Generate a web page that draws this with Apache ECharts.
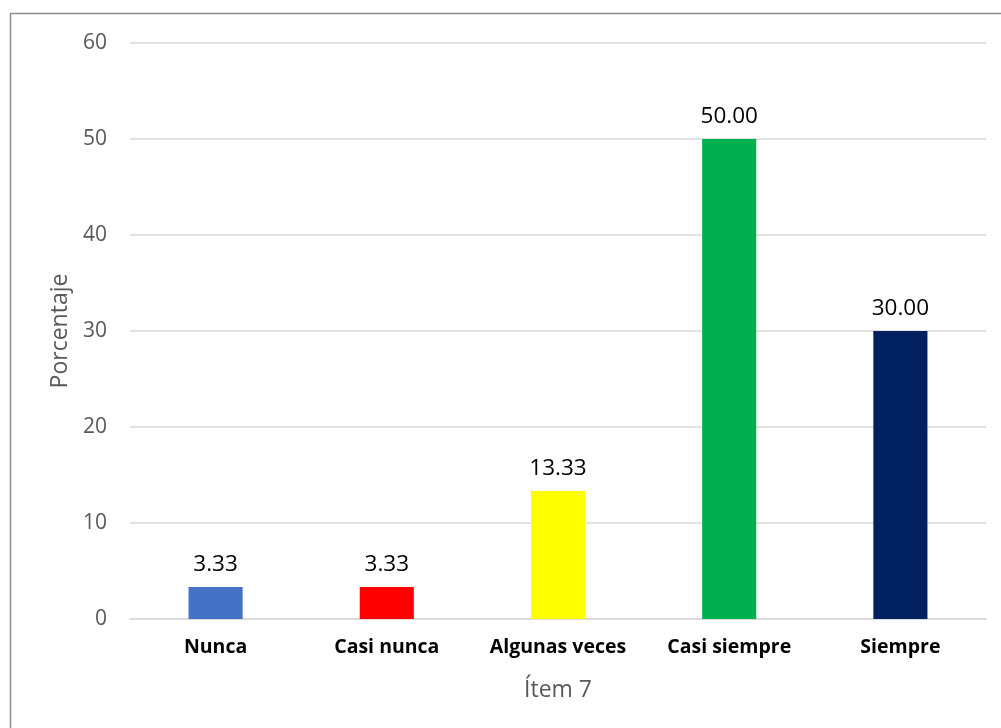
<!DOCTYPE html>
<html><head><meta charset="utf-8">
<script src="https://cdn.jsdelivr.net/npm/echarts@6/dist/echarts.min.js"></script>
<style>html,body{margin:0;padding:0;background:#fff}#c{width:1001px;height:728px}</style>
</head><body><div id="c"></div>
<script>
const categories = ['Nunca', 'Casi nunca', 'Algunas veces', 'Casi siempre', 'Siempre'];
const values = [3.33, 3.33, 13.33, 50.00, 30.00];
const colors = ['#4472C4', '#FF0000', '#FFFF00', '#00B050', '#002060'];
const yTicks = [0, 10, 20, 30, 40, 50, 60];

const chart = echarts.init(document.getElementById('c'), null, {renderer: 'canvas'});
const font = 'Open Sans, Liberation Sans, sans-serif';
chart.setOption({
  animation: false,
  graphic: [{type: 'rect', shape: {x: 10.5, y: 13.5, width: 1010, height: 730}, style: {fill: 'none', stroke: '#8c8c8c', lineWidth: 1.5}, silent: true}],
  grid: {left: 130, right: 15, top: 43, bottom: 109},
  xAxis: {
    type: 'category', data: categories,
    axisLine: {show: true, lineStyle: {color: '#d9d9d9', width: 1.5}},
    axisTick: {show: false},
    axisLabel: {interval: 0, hideOverlap: false, color: '#000', fontWeight: 'bold', fontSize: 19.5, fontFamily: font, margin: 18},
    name: 'Ítem 7', nameLocation: 'middle', nameGap: 60,
    nameTextStyle: {color: '#595959', fontSize: 23, fontFamily: font}
  },
  yAxis: {
    type: 'value', min: yTicks[0], max: yTicks[yTicks.length - 1], interval: 10,
    axisLine: {show: false}, axisTick: {show: false},
    splitLine: {lineStyle: {color: '#d9d9d9', width: 1.5}},
    axisLabel: {color: '#595959', fontSize: 21, fontFamily: font, margin: 23},
    name: 'Porcentaje', nameLocation: 'middle', nameGap: 57, nameRotate: 90,
    nameTextStyle: {color: '#595959', fontSize: 23, fontFamily: font}
  },
  series: [{
    type: 'bar', barWidth: '31.6%',
    data: values.map((v, i) => ({value: v, itemStyle: {color: colors[i]}})),
    label: {show: true, position: 'top', distance: 11, color: '#000', fontSize: 22.5, fontFamily: font,
      formatter: p => p.value.toFixed(2)}
  }]
});
</script></body></html>
